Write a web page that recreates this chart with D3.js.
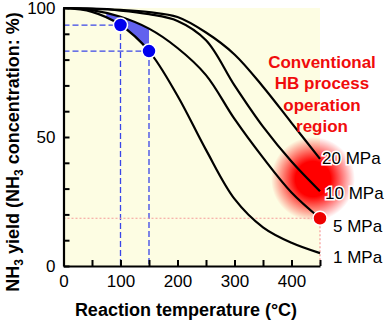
<!DOCTYPE html>
<html>
<head>
<meta charset="utf-8">
<script src="https://cdn.jsdelivr.net/npm/d3@7"></script>
<style>
  body { margin: 0; background: #fff; }
  text { font-family: "Liberation Sans", Arial, sans-serif; }
</style>
</head>
<body>
<div id="container"></div>
<script>
      //Data
      var temps = [0, 50, 100, 150, 200, 250, 300, 350, 400, 450];
      var p20 = [100, 99.8, 99.3, 98.4, 96.5, 90.5, 82, 69.5, 55.5, 41.5];
      var p10 = [100, 99.7, 99, 97.6, 95, 87.5, 70, 54, 40.5, 29];
      var p5 = [100, 99.2, 96.6, 92, 84.5, 74, 57, 42, 28.5, 18.5];
      var p1 = [100, 98.5, 93.4, 83.3, 66, 45, 26, 15, 9, 5];
      var seriesNames = ["20 MPa", "10 MPa", "5 MPa", "1 MPa"];
      var labelPos = [[322, 158], [325, 193], [333, 226], [333, 257]];
      var blueDots = [[100, 93.4], [150, 83.3]];
      var redDot = [450, 18.5];
      var shadeRange = [75, 150];
      var regionText = ["Conventional", "HB process", "operation", "region"];

      //Width and height
      var w = 387;
      var h = 321;

      var x = d3.scaleLinear().domain([0, 450]).range([63.5, 320]);
      var y = d3.scaleLinear().domain([0, 100]).range([266, 8]);

      var svg = d3.select("#container")
            .append("svg")
            .attr("width", w)
            .attr("height", h);

      //plot background
      svg.append("rect")
        .attr("x", x(0)).attr("y", y(100))
        .attr("width", x(450) - x(0)).attr("height", y(0) - y(100))
        .attr("fill", "#fdfde3");

      //red glow
      var defs = svg.append("defs");
      var grad = defs.append("radialGradient").attr("id", "glow");
      grad.append("stop").attr("offset", "0%").attr("stop-color", "#ff0000").attr("stop-opacity", 1);
      grad.append("stop").attr("offset", "42%").attr("stop-color", "#ff0000").attr("stop-opacity", 1);
      grad.append("stop").attr("offset", "100%").attr("stop-color", "#ff0000").attr("stop-opacity", 0);
      svg.append("circle")
        .attr("cx", 313).attr("cy", 179).attr("r", 42)
        .attr("fill", "url(#glow)");

      defs.append("clipPath").attr("id", "shadeClip")
        .append("rect")
        .attr("x", x(shadeRange[0])).attr("y", 0)
        .attr("width", x(shadeRange[1]) - x(shadeRange[0])).attr("height", h);

      //dashed guide lines
      blueDots.forEach(function(d) {
        svg.append("line")
          .attr("x1", x(0)).attr("x2", x(d[0]))
          .attr("y1", y(d[1])).attr("y2", y(d[1]))
          .attr("stroke", "#3a46e8").attr("stroke-width", 1.3)
          .attr("stroke-dasharray", "6,3");
        svg.append("line")
          .attr("x1", x(d[0])).attr("x2", x(d[0]))
          .attr("y1", y(d[1])).attr("y2", y(0))
          .attr("stroke", "#3a46e8").attr("stroke-width", 1.3)
          .attr("stroke-dasharray", "6,3");
      });
      svg.append("line")
        .attr("x1", x(0)).attr("x2", x(redDot[0]))
        .attr("y1", y(redDot[1])).attr("y2", y(redDot[1]))
        .attr("stroke", "#f59a9a").attr("stroke-width", 1.2)
        .attr("stroke-dasharray", "2,2");
      svg.append("line")
        .attr("x1", x(redDot[0])).attr("x2", x(redDot[0]))
        .attr("y1", y(redDot[1])).attr("y2", y(0))
        .attr("stroke", "#f59a9a").attr("stroke-width", 1.2)
        .attr("stroke-dasharray", "2,2");

      var curve = d3.curveCatmullRom.alpha(0.5);

      //blue shaded band between 1 MPa and 5 MPa
      var band = temps.map(function(t, i) { return { t: t, lo: p1[i], hi: p5[i] }; });
      svg.append("path")
        .datum(band)
        .attr("clip-path", "url(#shadeClip)")
        .attr("fill", "#6262ee")
        .attr("d", d3.area()
          .curve(curve)
          .x(function(d) { return x(d.t); })
          .y0(function(d) { return y(d.lo); })
          .y1(function(d) { return y(d.hi); }));

      //curves
      var line = d3.line()
        .curve(curve)
        .x(function(d, i) { return x(temps[i]); })
        .y(function(d) { return y(d); });
      [p20, p10, p5, p1].forEach(function(s) {
        svg.append("path")
          .datum(s)
          .attr("fill", "none")
          .attr("stroke", "#000")
          .attr("stroke-width", 2.2)
          .attr("d", line);
      });

      //axes
      var xAxis = svg.append("g")
        .attr("transform", "translate(0," + y(0) + ")")
        .call(d3.axisBottom(x)
          .tickValues(d3.range(0, 451, 50))
          .tickSizeInner(-6).tickSizeOuter(0).tickPadding(9)
          .tickFormat(function(d) { return (d % 100 === 0 && d < 450) ? d : ""; }));
      var yAxis = svg.append("g")
        .attr("transform", "translate(" + x(0) + ",0)")
        .call(d3.axisLeft(y)
          .tickValues(d3.range(0, 101, 10))
          .tickSizeInner(-6).tickSizeOuter(0).tickPadding(8)
          .tickFormat(function(d) { return d % 50 === 0 ? d : ""; }));
      [xAxis, yAxis].forEach(function(g) {
        g.select(".domain").attr("stroke-width", 2.2);
        g.selectAll(".tick line").attr("stroke-width", 2);
        g.selectAll("text").attr("font-size", 17).attr("fill", "#000")
          .style("font-family", "'Liberation Sans', Arial, sans-serif");
      });

      //dots
      blueDots.forEach(function(d) {
        svg.append("circle")
          .attr("cx", x(d[0])).attr("cy", y(d[1])).attr("r", 7)
          .attr("fill", "#0000ee").attr("stroke", "#fff").attr("stroke-width", 1.5);
      });
      svg.append("circle")
        .attr("cx", x(redDot[0])).attr("cy", y(redDot[1])).attr("r", 7)
        .attr("fill", "#ee0000").attr("stroke", "#fff").attr("stroke-width", 1.5);

      //pressure labels
      seriesNames.forEach(function(n, i) {
        svg.append("text")
          .attr("x", labelPos[i][0]).attr("y", labelPos[i][1])
          .attr("dy", "0.35em")
          .attr("font-size", 17)
          .attr("fill", "#000")
          .attr("stroke", "#fff").attr("stroke-width", 3)
          .attr("paint-order", "stroke")
          .text(n);
      });

      //region annotation
      regionText.forEach(function(t, i) {
        svg.append("text")
          .attr("x", 322).attr("y", 62 + i * 21.5)
          .attr("dy", "0.35em")
          .attr("text-anchor", "middle")
          .attr("font-size", 17).attr("font-weight", "bold")
          .attr("fill", "#f00c0c")
          .text(t);
      });

      //axis titles
      svg.append("text")
        .attr("x", 186).attr("y", 310)
        .attr("dy", "0.35em")
        .attr("text-anchor", "middle")
        .attr("font-size", 18).attr("font-weight", "bold")
        .text("Reaction temperature (°C)");

      var yt = svg.append("text")
        .attr("transform", "translate(13,152) rotate(-90)")
        .attr("dy", "0.35em")
        .attr("text-anchor", "middle")
        .attr("font-size", 18).attr("font-weight", "bold");
      yt.append("tspan").text("NH");
      yt.append("tspan").attr("font-size", 12).attr("dy", "4").text("3");
      yt.append("tspan").attr("dy", "-4").text(" yield (NH");
      yt.append("tspan").attr("font-size", 12).attr("dy", "4").text("3");
      yt.append("tspan").attr("dy", "-4").text(" concentration: %)");
</script>
</body>
</html>
